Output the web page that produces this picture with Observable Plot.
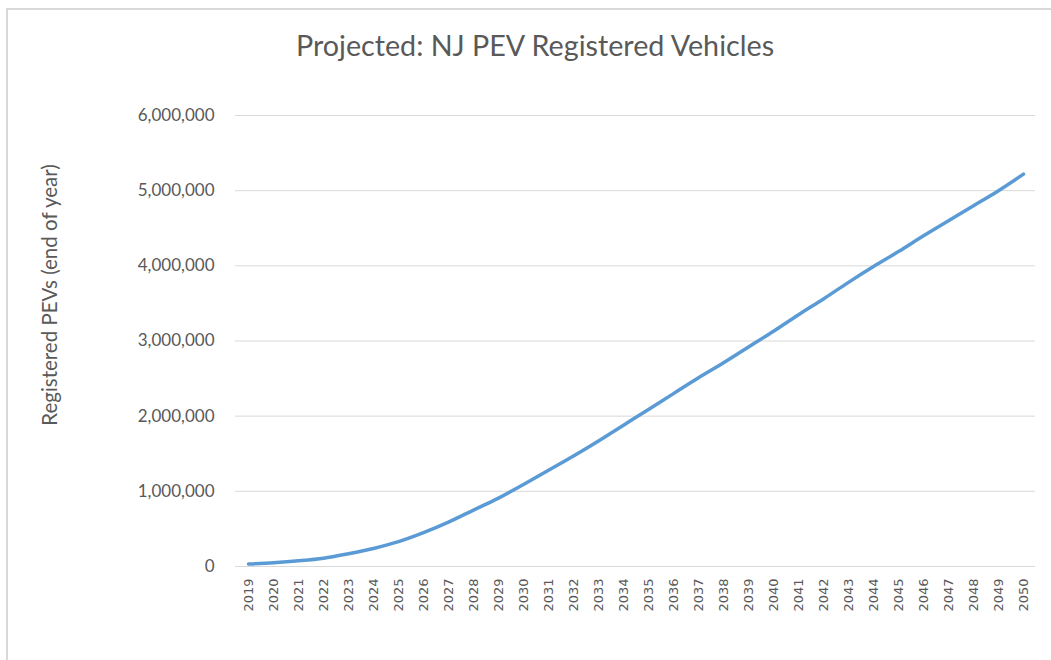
<!DOCTYPE html>
<html>
<head>
<meta charset="utf-8">
<script src="https://cdn.jsdelivr.net/npm/d3@7"></script>
<script src="https://cdn.jsdelivr.net/npm/@observablehq/plot@0.6"></script>
<style>
  html, body { margin: 0; padding: 0; background: #fff; }
  #wrap { position: relative; width: 1051px; height: 660px; overflow: hidden; }
  #frame { position: absolute; left: 6px; top: 8px; width: 1100px; height: 700px;
           border-top: 2px solid #d9d9d9; border-left: 2px solid #d9d9d9; box-sizing: border-box; }
  #title { position: absolute; left: 0; top: 27px; width: 1070px; text-align: center;
           font-family: Lato, sans-serif; font-size: 28.7px; color: #595959; line-height: 36px; }
  #chart { position: absolute; left: 0; top: 0; }
</style>
</head>
<body>
<div id="wrap">
  <div id="frame"></div>
  <div id="title">Projected: NJ PEV Registered Vehicles</div>
  <div id="chart"></div>
</div>
<script>
const years = ["2019","2020","2021","2022","2023","2024","2025","2026","2027","2028","2029","2030","2031","2032","2033","2034","2035","2036","2037","2038","2039","2040","2041","2042","2043","2044","2045","2046","2047","2048","2049","2050"];
const registered = [33000, 50000, 75000, 110000, 170000, 240000, 330000, 450000, 590000, 750000, 910000, 1090000, 1280000, 1470000, 1670000, 1880000, 2090000, 2300000, 2510000, 2710000, 2920000, 3130000, 3350000, 3560000, 3780000, 3990000, 4190000, 4400000, 4600000, 4800000, 5000000, 5220000];
const yTicks = [0, 1000000, 2000000, 3000000, 4000000, 5000000, 6000000];
const yLabel = "Registered PEVs (end of year)";

const data = years.map((y, i) => ({year: y, value: registered[i]}));

const chart = Plot.plot({
  width: 1051,
  height: 660,
  marginLeft: 235,
  marginRight: 16,
  marginTop: 115,
  marginBottom: 94,
  style: {fontFamily: "Lato, sans-serif", color: "#595959", background: "transparent"},
  x: {type: "point", domain: years, padding: 0.5},
  y: {domain: [0, 6000000]},
  marks: [
    Plot.gridY(yTicks, {stroke: "#d9d9d9", strokeOpacity: 1, strokeWidth: 1}),
    Plot.ruleY([0], {stroke: "#d9d9d9", strokeWidth: 1}),
    Plot.axisY(yTicks, {
      tickSize: 0, tickPadding: 21, tickFormat: d3.format(","),
      fontSize: 17, fill: "#595959", label: null
    }),
    Plot.text([yLabel], {
      frameAnchor: "left", textAnchor: "middle", dx: -185, dy: -46, rotate: -90,
      fontSize: 20.5, fill: "#595959", fontFamily: "Lato, sans-serif"
    }),
    Plot.axisX(years, {
      tickSize: 0, tickPadding: 12, tickRotate: -90, fontSize: 13,
      fontFamily: "DejaVu Sans, sans-serif", fill: "#595959", label: null
    }),
    Plot.line(data, {x: "year", y: "value", stroke: "#5b9bd5", strokeWidth: 3.5, curve: "monotone-x", strokeLinecap: "round"})
  ]
});
document.getElementById("chart").appendChild(chart);
</script>
</body>
</html>
